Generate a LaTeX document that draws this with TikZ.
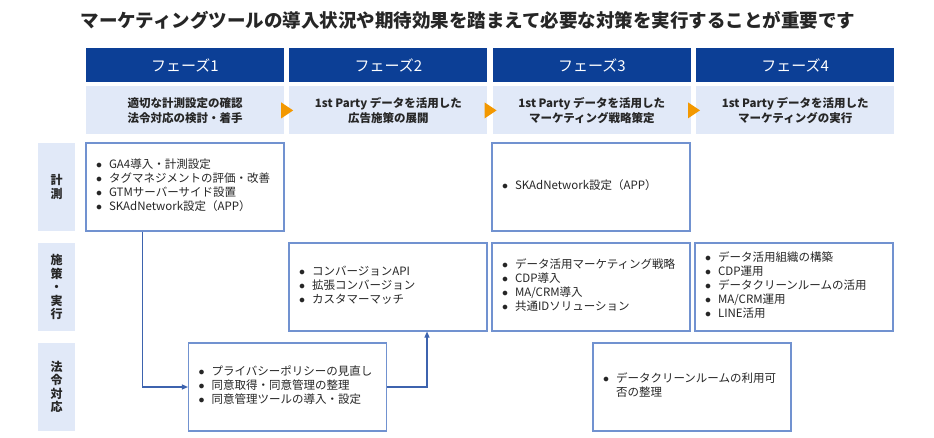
\documentclass[tikz,border=0pt]{standalone}
\usepackage{fontspec}
\setmainfont{Noto Sans CJK JP}
\usetikzlibrary{arrows.meta,positioning}
\definecolor{phase}{HTML}{0C3F96}
\definecolor{pale}{HTML}{E1E9F8}
\definecolor{frame}{HTML}{7192D0}
\definecolor{link}{HTML}{3D63AE}
\definecolor{stepor}{HTML}{F39800}
\definecolor{ink}{HTML}{262626}
\newcommand{\blist}[1]{\begin{tabular}{@{}l@{\hspace{7pt}}l@{}}#1\end{tabular}}
\newcommand{\bt}{$\bullet$}

\begin{document}
\begin{tikzpicture}[x=1pt,y=-1pt,>={Triangle[length=6pt,width=5pt]},
    phasehead/.style={fill=phase,text=white,minimum width=198pt,minimum height=34pt,inner sep=0pt,font=\fontsize{15}{18}\selectfont},
    phasesub/.style={fill=pale,text=ink,minimum width=198pt,minimum height=48pt,inner sep=0pt,align=center,font=\bfseries\fontsize{11.5}{15}\selectfont},
    rowlab/.style={fill=pale,text=ink,minimum width=37pt,minimum height=88pt,inner sep=0pt,align=center,font=\bfseries\fontsize{12}{13.5}\selectfont},
    cell/.style={draw=frame,line width=1.1pt,fill=white,text=ink,text width=178pt,minimum height=88pt,inner xsep=10pt,inner ysep=0pt,align=left,font=\fontsize{11.5}{14}\selectfont},
    flow/.style={draw=link,line width=1.1pt,->}]

                \useasboundingbox (0,0) rectangle (934,437);

                \node[font=\bfseries\fontsize{18.5}{22}\selectfont,text=ink] (title) at (468,20) {マーケティングツールの導入状況や期待効果を踏まえて必要な対策を実行することが重要です};

                \node[phasehead] (f1) at (185,65) {フェーズ1};
                \node[phasehead] (f2) [right=5pt of f1] {フェーズ2};
                \node[phasehead] (f3) [right=5pt of f2] {フェーズ3};
                \node[phasehead] (f4) [right=5pt of f3] {フェーズ4};

                \node[phasesub] (d1) [below=4pt of f1] {適切な計測設定の確認\\法令対応の検討・着手};
                \node[phasesub] (d2) [below=4pt of f2] {1st Party データを活用した\\広告施策の展開};
                \node[phasesub] (d3) [below=4pt of f3] {1st Party データを活用した\\マーケティング戦略策定};
                \node[phasesub] (d4) [below=4pt of f4] {1st Party データを活用した\\マーケティングの実行};

                \foreach \i in {1,2,3}
                    \fill[stepor] ([xshift=-3pt,yshift=8pt]d\i.east) -- ([xshift=9pt]d\i.east) -- ([xshift=-3pt,yshift=-8pt]d\i.east) -- cycle;

                \node[rowlab] (r1) at (56.5,187) {計\\測};
                \node[rowlab] (r2) at (56.5,287) {施\\策\\・\\実\\行};
                \node[rowlab] (r3) at (56.5,387) {法\\令\\対\\応};

                \node[cell] (m1) at (185,187) {\blist{\bt&GA4導入・計測設定\\\bt&タグマネジメントの評価・改善\\\bt&GTMサーバーサイド設置\\\bt&SKAdNetwork設定（APP）}};
                \node[cell] (m3) at (591,187) {\blist{\bt&SKAdNetwork設定（APP）}};

                \node[cell] (s2) at (388,287) {\blist{\bt&コンバージョンAPI\\\bt&拡張コンバージョン\\\bt&カスタマーマッチ}};
                \node[cell] (s3) at (591,287) {\blist{\bt&データ活用マーケティング戦略\\\bt&CDP導入\\\bt&MA/CRM導入\\\bt&共通IDソリューション}};
                \node[cell] (s4) at (794,287) {\blist{\bt&データ活用組織の構築\\\bt&CDP運用\\\bt&データクリーンルームの活用\\\bt&MA/CRM運用\\\bt&LINE活用}};

                \node[cell] (h1) at (287.5,387) {\blist{\bt&プライバシーポリシーの見直し\\\bt&同意取得・同意管理の整理\\\bt&同意管理ツールの導入・設定}};
                \node[cell] (h3) at (692,387) {\blist{\bt&データクリーンルームの利用可\\&否の整理}};

                \draw[flow] ([xshift=57pt]m1.south west) |- (h1.west);
                \draw[flow] (h1.east) -| ([xshift=39pt]s2.south);

            \end{tikzpicture}
\end{document}
